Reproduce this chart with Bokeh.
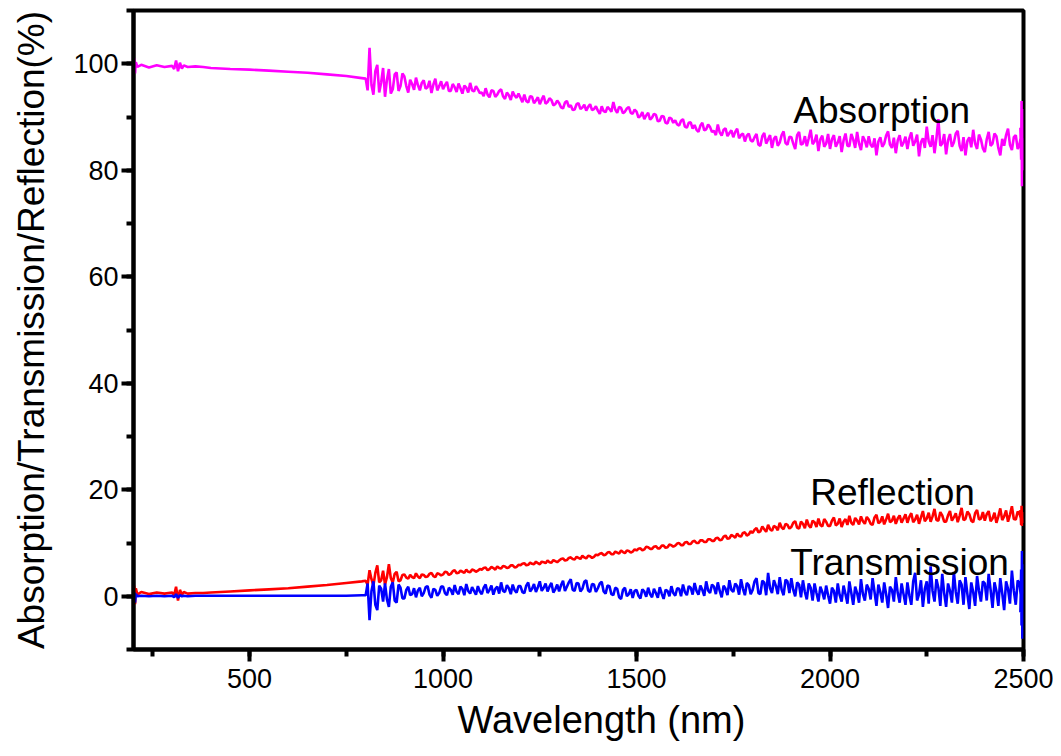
from bokeh.plotting import figure
from bokeh.models import Range1d, SingleIntervalTicker, Title, Label
from bokeh.embed import file_html
from bokeh.resources import INLINE

# ---------------- data ----------------
wl_head = [200, 202, 204, 206, 210, 220, 240, 260, 280, 300, 305, 310, 315, 320,
           325, 330, 340, 360, 380, 400, 450, 500, 550, 600, 650, 700, 750, 790]
abs_head = [99.5, 101.0, 98.2, 100.3, 99.4, 99.8, 99.3, 99.7, 99.4, 99.6, 99.0, 100.6, 98.6, 100.2,
            99.1, 99.7, 99.4, 99.5, 99.4, 99.2, 99.0, 98.9, 98.7, 98.5, 98.3, 98.0, 97.7, 97.3]
refl_head = [0.5, 2.0, -1.5, 1.5, 0.3, 0.8, 0.4, 0.7, 0.5, 0.7, 0.2, 1.8, -0.8, 1.2,
             0.3, 0.8, 0.5, 0.6, 0.6, 0.7, 0.9, 1.1, 1.3, 1.5, 1.8, 2.1, 2.5, 2.8]
trans_head = [0.0, 0.8, -1.2, 0.4, 0.0, 0.1, 0.0, 0.1, 0.0, 0.1, -0.2, 0.4, -0.3, 0.2,
              0.0, 0.1, 0.0, 0.1, 0.1, 0.1, 0.1, 0.1, 0.1, 0.1, 0.1, 0.1, 0.1, 0.2]

wl_noisy = list(range(800, 2500, 5))
abs_noisy = [
    97.2, 95.0, 103.0, 96.0, 94.2, 98.6, 99.8, 94.6, 96.5, 99.2,
    93.8, 97.0, 99.0, 94.4, 95.2, 98.0, 98.4, 94.9, 95.8, 98.2,
    97.6, 95.8, 94.6, 97.0, 96.2, 95.1, 97.4, 96.0, 95.0, 96.4,
    96.9, 95.3, 95.6, 96.8, 94.5, 96.1, 97.2, 95.0, 95.8, 96.7,
    95.2, 96.0, 96.6, 94.9, 94.9, 96.2, 95.6, 94.7, 96.3, 95.4,
    94.4, 95.9, 95.5, 94.6, 96.4, 95.0, 94.8, 95.8, 95.2, 94.5,
    94.6, 93.9, 95.4, 94.2, 93.7, 95.0, 94.9, 93.8, 94.2, 94.9,
    95.2, 93.9, 93.4, 94.6, 94.1, 93.2, 94.8, 94.0, 93.6, 94.4,
    93.6, 92.8, 94.2, 93.0, 92.7, 93.9, 93.8, 92.6, 93.1, 93.7,
    92.4, 93.3, 94.0, 92.5, 92.8, 93.5, 93.2, 92.2, 92.4, 93.1,
    92.6, 91.8, 91.6, 92.7, 93.0, 91.9, 92.2, 91.3, 91.4, 92.4,
    92.6, 91.5, 91.8, 92.3, 91.2, 91.9, 92.4, 91.3, 91.5, 92.0,
    91.2, 90.6, 92.0, 91.1, 90.9, 91.9, 91.5, 91.0, 92.8, 91.4,
    90.8, 91.9, 91.7, 90.7, 91.0, 91.6, 91.9, 90.8, 90.6, 91.4,
    91.0, 89.9, 90.2, 90.9, 89.6, 90.3, 90.8, 89.5, 89.9, 90.6,
    90.4, 89.2, 89.3, 90.2, 90.1, 88.9, 88.8, 89.9, 89.7, 88.9,
    89.4, 88.6, 88.4, 89.3, 89.6, 88.2, 88.0, 88.9, 89.0, 87.8,
    88.5, 87.6, 87.2, 88.4, 88.9, 87.5, 87.7, 88.6, 88.1, 87.2,
    87.4, 86.6, 88.6, 87.1, 86.5, 87.6, 87.9, 86.4, 87.0, 87.5,
    86.2, 87.2, 87.8, 86.0, 86.6, 86.9, 85.4, 86.5, 86.9, 85.6,
    85.4, 86.2, 86.8, 84.8, 84.6, 86.4, 87.0, 85.0, 85.8, 86.6,
    84.2, 85.9, 86.4, 84.6, 85.2, 86.6, 87.3, 85.1, 84.8, 86.3,
    86.2, 85.0, 84.0, 86.6, 87.2, 84.8, 85.0, 86.4, 84.5, 86.0,
    87.6, 84.9, 85.4, 86.7, 83.6, 85.8, 86.5, 84.4, 85.0, 86.8,
    84.0, 85.8, 86.6, 84.4, 85.2, 86.4, 83.4, 85.6, 86.9, 84.6,
    84.5, 86.8, 85.8, 84.2, 87.2, 85.0, 83.8, 86.4, 85.6, 84.3,
    86.4, 84.8, 84.3, 86.0, 82.8, 85.4, 86.2, 84.4, 85.0, 86.5,
    87.3, 84.8, 84.2, 86.1, 83.2, 85.6, 86.6, 84.5, 85.2, 86.3,
    84.0, 86.0, 87.1, 84.6, 85.4, 86.7, 82.6, 85.3, 86.0, 84.2,
    88.2, 85.4, 84.4, 86.6, 83.2, 86.0, 89.6, 84.6, 85.0, 86.8,
    83.0, 85.6, 86.8, 84.4, 85.2, 86.9, 87.4, 84.6, 83.6, 86.2,
    82.8, 85.5, 86.2, 84.3, 87.6, 85.0, 84.0, 86.7, 85.8, 84.1,
    83.4, 85.8, 87.2, 84.6, 85.0, 86.9, 86.4, 84.2, 82.8, 85.9,
    84.6, 86.6, 87.8, 84.8, 83.8, 86.2, 86.6, 84.0, 85.0, 87.0,
]
refl_noisy = [
    2.9, 2.2, 4.9, 3.2, 2.0, 4.4, 5.8, 2.6, 3.0, 4.8,
    2.2, 3.6, 6.0, 3.4, 2.6, 4.2, 4.6, 2.8, 3.0, 4.0,
    4.1, 3.5, 3.3, 4.0, 3.6, 3.4, 4.3, 3.7, 3.4, 4.1,
    4.0, 3.6, 3.7, 4.2, 4.4, 3.8, 3.6, 4.3, 4.2, 3.9,
    4.1, 4.6, 4.5, 4.0, 4.2, 4.7, 4.9, 4.3, 4.4, 4.8,
    4.6, 4.4, 5.0, 4.6, 4.5, 5.0, 4.9, 4.6, 4.8, 5.1,
    5.0, 5.3, 5.4, 4.9, 5.1, 5.5, 5.3, 5.0, 5.6, 5.3,
    5.2, 5.7, 5.6, 5.3, 5.4, 5.8, 5.8, 5.4, 5.5, 5.9,
    5.8, 6.1, 6.2, 5.8, 5.9, 6.3, 6.1, 6.0, 6.5, 6.2,
    6.0, 6.5, 6.4, 6.2, 6.7, 6.4, 6.3, 6.8, 6.6, 6.4,
    6.7, 7.0, 7.1, 6.7, 6.8, 7.2, 7.3, 7.0, 6.9, 7.4,
    7.2, 7.0, 7.6, 7.3, 7.1, 7.6, 7.5, 7.2, 7.4, 7.8,
    7.7, 8.0, 8.1, 7.7, 7.8, 8.2, 8.3, 7.9, 7.9, 8.4,
    8.2, 8.0, 8.6, 8.3, 8.1, 8.6, 8.5, 8.2, 8.4, 8.8,
    8.6, 8.9, 9.0, 8.6, 8.8, 9.3, 9.2, 8.9, 8.9, 9.3,
    9.4, 9.0, 9.0, 9.5, 9.5, 9.1, 9.2, 9.7, 9.6, 9.3,
    9.5, 9.9, 10.0, 9.6, 9.6, 10.1, 10.2, 9.8, 9.8, 10.3,
    10.4, 10.0, 10.0, 10.5, 10.5, 10.2, 10.2, 10.7, 10.7, 10.4,
    10.4, 10.9, 11.0, 10.5, 10.6, 11.2, 11.4, 10.8, 10.9, 11.5,
    11.3, 11.0, 11.8, 11.3, 11.2, 11.9, 12.0, 11.4, 11.6, 12.2,
    11.9, 12.5, 12.8, 12.0, 12.2, 13.1, 12.6, 12.1, 13.4, 12.6,
    12.3, 13.2, 13.0, 12.4, 13.8, 12.9, 12.6, 13.6, 13.4, 12.7,
    13.0, 13.8, 14.1, 12.9, 12.7, 14.0, 13.6, 12.8, 14.4, 13.3,
    12.9, 14.2, 13.9, 13.0, 14.6, 13.4, 13.1, 14.5, 14.0, 13.2,
    13.2, 14.2, 14.8, 13.3, 13.6, 14.6, 13.0, 14.0, 14.5, 13.4,
    15.1, 13.8, 13.4, 14.7, 14.2, 13.5, 15.0, 14.1, 13.6, 14.9,
    14.4, 13.6, 13.4, 14.8, 15.3, 13.7, 14.0, 15.0, 13.5, 14.4,
    15.5, 13.9, 14.2, 15.1, 13.6, 14.6, 15.2, 13.8, 14.6, 15.4,
    13.8, 14.9, 15.6, 13.9, 14.4, 15.3, 13.6, 14.8, 16.0, 14.1,
    14.6, 15.7, 14.0, 15.0, 16.4, 14.3, 14.2, 15.8, 15.2, 14.0,
    14.0, 15.2, 16.0, 14.2, 14.8, 15.6, 13.9, 15.1, 16.6, 14.3,
    14.5, 15.9, 15.4, 14.2, 13.9, 15.6, 16.2, 14.4, 14.6, 15.8,
    14.2, 15.4, 16.0, 14.1, 14.6, 15.7, 13.8, 15.0, 16.5, 14.3,
    15.0, 16.1, 14.0, 15.3, 16.9, 14.5, 14.4, 15.9, 15.4, 14.2,
]
trans_noisy = [
    0.2, 2.4, -4.5, 1.0, 2.8, -1.6, -2.6, 2.0, 1.4, -1.0,
    2.4, -0.6, -2.0, 1.8, 2.6, -0.8, -1.2, 2.2, 1.6, -0.4,
    -0.4, 1.2, 1.8, 0.2, 0.4, 1.5, -0.2, 1.1, 1.6, 0.0,
    0.6, 1.7, 1.9, 0.3, -0.3, 1.4, 1.2, 0.1, 0.6, 1.8,
    1.8, 0.6, 0.2, 1.6, 1.2, 0.3, 2.1, 0.8, 0.4, 1.8,
    1.4, 0.2, 2.3, 1.0, 0.5, 1.7, 1.0, 0.3, 1.9, 0.9,
    0.4, 1.6, 2.2, 0.6, 1.2, 2.0, 0.3, 1.4, 1.8, 0.5,
    2.6, 1.0, 0.8, 2.1, 1.5, 0.4, 2.2, 1.1, 0.7, 1.9,
    1.9, 0.8, 0.6, 2.0, 2.6, 0.9, 1.4, 2.3, 0.8, 1.7,
    2.8, 1.0, 1.6, 2.4, 0.9, 1.8, 2.5, 0.7, 1.3, 2.2,
    0.9, 2.1, 2.9, 1.0, 1.8, 2.6, 3.2, 1.2, 1.0, 2.5,
    2.4, 0.9, 1.4, 2.7, 3.0, 1.1, 0.8, 2.3, 2.2, 0.8,
    1.5, 2.4, 2.7, 0.9, 0.5, 2.0, 1.9, 0.4, 0.2, 1.6,
    1.4, -0.2, -0.5, 1.2, 1.6, 0.0, 0.4, 1.3, -0.3, 1.0,
    1.2, 0.1, -0.4, 1.3, 0.9, -0.1, 1.6, 0.4, -0.2, 1.4,
    0.6, -0.3, 1.7, 0.5, -0.5, 1.2, 1.0, 0.0, 1.9, 0.6,
    0.1, 1.5, 1.4, 0.0, 2.2, 0.8, 0.2, 1.9, 1.6, 0.3,
    2.5, 1.0, 0.3, 2.0, 1.2, 0.1, 2.8, 1.1, 0.6, 2.2,
    1.8, 0.4, 2.6, 1.0, -0.2, 2.0, 1.4, 0.2, 3.0, 1.2,
    0.8, 2.4, 1.9, 0.3, 3.2, 1.4, 0.2, 2.5, 2.1, 0.4,
    1.2, 2.8, 3.4, 0.6, 0.4, 2.9, 2.6, 0.2, 4.4, 1.5,
    0.6, 3.0, 2.0, 0.4, 3.6, 1.2, 0.2, 3.1, 2.8, 0.6,
    3.4, 1.2, 0.0, 2.6, 2.2, -0.2, 3.0, 0.8, -0.6, 2.4,
    1.6, -0.8, 2.4, 0.6, -1.0, 1.8, 0.8, -0.6, 2.0, 0.2,
    -1.4, 1.6, 1.0, -1.2, 2.4, 0.2, -1.0, 2.0, 0.4, -1.4,
    2.8, 0.6, -1.6, 1.8, 0.6, -1.2, 3.2, 0.4, -0.8, 2.2,
    1.4, -0.6, 3.4, 0.8, -1.8, 2.2, 0.8, -1.2, 2.6, 0.4,
    -2.2, 1.8, 1.2, -1.0, 3.6, 0.6, -1.2, 2.4, 0.4, -1.6,
    2.6, 0.2, -1.6, 2.8, 4.4, -0.8, 0.4, 3.0, -2.0, 1.4,
    2.8, -1.4, 5.6, 1.0, -1.0, 3.2, 1.6, -1.8, 4.2, 0.6,
    -2.0, 2.4, 1.0, -1.2, 4.6, 0.8, -1.4, 3.0, 2.2, -1.6,
    3.6, 0.4, -2.4, 2.6, 0.8, -1.8, 3.8, 1.0, -1.0, 2.8,
    2.4, -0.8, 4.2, 1.2, -2.2, 2.6, 1.0, -1.8, 3.4, 0.6,
    -2.6, 2.8, 1.4, -1.4, 4.8, 1.0, -1.6, 3.0, 2.2, -1.2,
]

wl_tail = [2492, 2494, 2495, 2496, 2497, 2498, 2500]
abs_tail = [88.0, 82.0, 93.0, 77.0, 91.5, 80.0, 86.0]
refl_tail = [16.2, 13.4, 17.0, 13.2, 15.8, 13.8, 14.6]
trans_tail = [-3.0, 5.0, -5.5, 8.5, -8.0, 6.0, 0.5]

wavelength = wl_head + wl_noisy + wl_tail
absorption = abs_head + abs_noisy + abs_tail
reflection = refl_head + refl_noisy + refl_tail
transmission = trans_head + trans_noisy + trans_tail

labels = ["Absorption", "Reflection", "Transmission"]
label_x = [1905, 1949, 1897]
label_y = [91.2, 19.4, 6.4]

FONT = "Liberation Sans"

# ---------------- figure ----------------
p = figure(frame_width=890, frame_height=639,
           x_range=Range1d(200, 2500), y_range=Range1d(-10, 110),
           output_backend="svg", toolbar_location=None,
           min_border_left=133, min_border_top=10, min_border_right=30,
           min_border_bottom=0, background_fill_color="white",
           border_fill_color="white")
p.grid.visible = False
p.outline_line_color = "black"
p.outline_line_width = 4
p.outline_line_alpha = 1.0

p.line(wavelength, absorption, line_color="#FF00FF", line_width=2.6)
p.line(wavelength, reflection, line_color="#FF0000", line_width=2.6)
p.line(wavelength, transmission, line_color="#0000FF", line_width=2.6)

for t, x, y in zip(labels, label_x, label_y):
    p.add_layout(Label(x=x, y=y, text=t, text_font=FONT, text_font_size="37px",
                       text_color="black", text_align="left",
                       text_baseline="alphabetic"))

for ax in (p.xaxis[0], p.yaxis[0]):
    ax.axis_line_width = 4
    ax.major_tick_line_width = 4
    ax.minor_tick_line_width = 4
    ax.major_tick_in = 0
    ax.major_tick_out = 12
    ax.minor_tick_in = 0
    ax.minor_tick_out = 7
    ax.major_label_text_font = FONT
    ax.major_label_text_font_size = "27px"
    ax.major_label_text_color = "black"
    ax.major_label_standoff = 3
p.xaxis[0].major_label_standoff = 7

p.xaxis[0].ticker = SingleIntervalTicker(interval=500, num_minor_ticks=2)
p.yaxis[0].ticker = SingleIntervalTicker(interval=20, num_minor_ticks=2)

p.yaxis[0].axis_label = "Absorption/Transmission/Reflection(%)"
p.yaxis[0].axis_label_text_font = FONT
p.yaxis[0].axis_label_text_font_size = "37px"
p.yaxis[0].axis_label_text_font_style = "normal"
p.yaxis[0].axis_label_text_color = "black"
p.yaxis[0].axis_label_standoff = 18

p.add_layout(Title(text="Wavelength (nm)", align="left", offset=324,
                   text_font=FONT, text_font_size="38px", text_font_style="normal",
                   text_color="black", standoff=12), "below")

open("out.html", "w").write(file_html(p, INLINE))
